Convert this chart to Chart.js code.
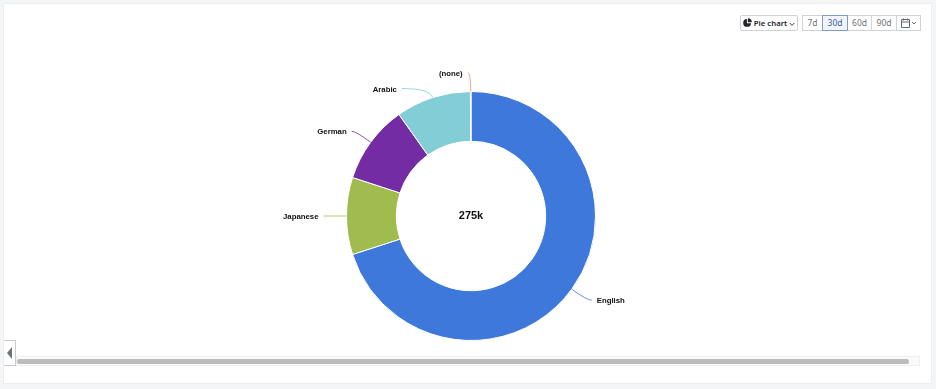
<!DOCTYPE html>
<html>
<head>
<meta charset="utf-8">
<script src="https://cdn.jsdelivr.net/npm/chart.js@4"></script>
<style>
  html, body { margin: 0; width: 936px; height: 389px; overflow: hidden; background: #f4f5f6; font-family: "Noto Sans", sans-serif; }
  .card { position: absolute; left: 4px; top: 4px; width: 927px; height: 379px; background: #fff; box-shadow: 0 0 0 1px #eceef0; }
  #chart { position: absolute; left: 171px; top: 46px; }
  .btn { position: absolute; top: 15px; height: 16px; box-sizing: border-box; border: 1px solid #cfd2d6; background: #fff; color: #6f7479;
         font-size: 8.5px; line-height: 14px; text-align: center; }
  .active { border-color: #7f9cc4; background: #f1f5fb; color: #35609c; z-index: 1; }
  #type { left: 740px; width: 58px; border-radius: 2px; color: #25282b; font-weight: 600; font-size: 7.75px; white-space: nowrap; }
  #type svg { vertical-align: -1px; }
  .tab { position: absolute; left: 4px; top: 340px; width: 12px; height: 26px; box-sizing: border-box; border: 1px solid #c9cbce; border-left: 0; background: #fff; }
  .tab i { position: absolute; left: 3px; top: 6px; border-style: solid; border-width: 6px 5px 6px 0; border-color: transparent #6e7378 transparent transparent; }
  .track { position: absolute; left: 16px; top: 356px; width: 904px; height: 10px; box-sizing: border-box; background: #fafafa; border: 1px solid #eff0f1; }
  .thumb { position: absolute; left: 17px; top: 359px; width: 892px; height: 5px; border-radius: 2px; background: #bcbcbc; }
</style>
</head>
<body>
<div class="card"></div>
<canvas id="chart" width="600" height="340"></canvas>

<div class="btn" id="type">
  <svg width="9" height="9" viewBox="0 0 10 10"><path d="M4.4 1a4.4 4.4 0 1 0 4.6 4.7H4.4z M5.4 0.2v4.4h4.4a4.4 4.4 0 0 0-4.4-4.4z" fill="#25282b"/></svg>
  Pie chart
  <svg width="6" height="5" viewBox="0 0 6 5"><path d="M0.7 1l2.3 2.4L5.3 1" fill="none" stroke="#25282b" stroke-width="0.9"/></svg>
</div>
<div class="btn" style="left:802px;width:21px">7d</div>
<div class="btn active" style="left:822px;width:26px">30d</div>
<div class="btn" style="left:847px;width:25px">60d</div>
<div class="btn" style="left:871px;width:26px">90d</div>
<div class="btn" style="left:896px;width:25px">
  <svg width="16" height="11" viewBox="0 0 16 11" style="margin-top:2px">
    <path d="M0.5 1.5h8v8h-8z M0.5 4h8 M2.5 0.5v2 M6.5 0.5v2" fill="none" stroke="#55595e" stroke-width="0.9"/>
    <path d="M11 4l2 2 2-2" fill="none" stroke="#55595e" stroke-width="0.9"/>
  </svg>
</div>

<div class="track"></div>
<div class="thumb"></div>
<div class="tab"><i></i></div>

<script>
const languages = ['English', 'Japanese', 'German', 'Arabic', '(none)'];
const sessions = [192500, 27500, 28000, 26800, 200];
const sliceColors = ['#3d78da', '#a0bc4e', '#742ca5', '#83ced6', '#e98a80'];
const centerLabel = '275k';

// where each connector ends, relative to the slice's outer edge
const connectorEnds = [[20, 11], [-23, 0], [-19, -11], [-31, -9], [-3, -19]];

const calloutPlugin = {
  id: 'callouts',
  afterDatasetsDraw(chart) {
    const ctx = chart.ctx;
    const arcs = chart.getDatasetMeta(0).data;

    ctx.save();
    arcs.forEach((arc, i) => {
      const mid = (arc.startAngle + arc.endAngle) / 2;
      const sx = arc.x + Math.cos(mid) * arc.outerRadius;
      const sy = arc.y + Math.sin(mid) * arc.outerRadius;
      const ex = sx + connectorEnds[i][0];
      const ey = sy + connectorEnds[i][1];
      // leaves along the slice direction, arrives flat at the label
      const dirY = Math.sin(mid);
      const t = Math.abs(dirY) < 0.01 ? 0 : connectorEnds[i][1] / dirY;

      ctx.beginPath();
      ctx.moveTo(sx, sy);
      ctx.quadraticCurveTo(sx + Math.cos(mid) * t, sy + dirY * t, ex, ey);
      ctx.strokeStyle = sliceColors[i];
      ctx.lineWidth = 0.8;
      ctx.stroke();

      const toRight = connectorEnds[i][0] > 0;
      ctx.font = '700 7.8px "Liberation Sans"';
      ctx.fillStyle = '#111';
      ctx.textAlign = toRight ? 'left' : 'right';
      ctx.textBaseline = 'middle';
      ctx.fillText(languages[i], ex + (toRight ? 5 : -5), ey + 1);
    });

    ctx.font = '700 11px "Liberation Sans"';
    ctx.fillStyle = '#111';
    ctx.textAlign = 'center';
    ctx.textBaseline = 'middle';
    ctx.fillText(centerLabel, arcs[0].x, arcs[0].y);
    ctx.restore();
  }
};

new Chart(document.getElementById('chart'), {
  type: 'doughnut',
  data: {
    labels: languages,
    datasets: [{
      data: sessions,
      backgroundColor: sliceColors,
      borderColor: '#fff',
      borderWidth: 1,
      hoverOffset: 0
    }]
  },
  options: {
    responsive: false,
    animation: false,
    cutout: '60%',
    layout: { padding: { top: 45, bottom: 45 } },
    plugins: { legend: { display: false }, tooltip: { enabled: false } }
  },
  plugins: [calloutPlugin]
});
</script>
</body>
</html>
